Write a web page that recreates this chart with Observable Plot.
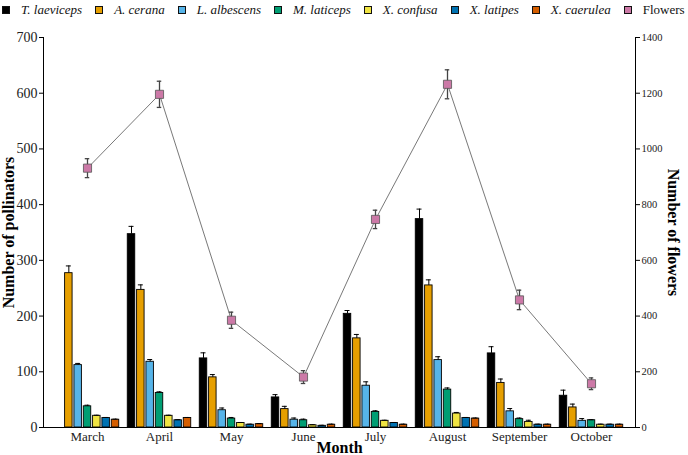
<!DOCTYPE html>
<html>
<head>
<meta charset="utf-8">
<script src="https://cdn.jsdelivr.net/npm/d3@7"></script>
<script src="https://cdn.jsdelivr.net/npm/@observablehq/plot@0.6"></script>
<style>
  html, body { margin: 0; padding: 0; background: #fff; }
  body { width: 688px; height: 455px; overflow: hidden; font-family: "Liberation Serif", "Times New Roman", serif; }
  #legend { height: 20px; display: flex; align-items: center; padding-left: 2px; font-size: 13px; color: #111; }
  #legend .item { display: flex; align-items: center; margin-right: 13px; white-space: nowrap; }
  #legend .sw { width: 6px; height: 6px; border: 1px solid #111; margin-right: 11px; }
  #legend .it { font-style: italic; }
  svg { display: block; }
</style>
</head>
<body>
<div id="legend"></div>
<div id="chart"></div>
<script>
// Months sampled
const months = ["March", "April", "May", "June", "July", "August", "September", "October"];

// Pollinator species and their colours
const species = ["T. laeviceps", "A. cerana", "L. albescens", "M. laticeps", "X. confusa", "X. latipes", "X. caerulea"];
const speciesColors = ["#000000", "#E69F00", "#56B4E9", "#009E73", "#F0E442", "#0072B2", "#D55E00"];
const flowerColor = "#CC79A7";

// Mean number of pollinators per month (one array per species)
const tLaeviceps  = [0, 347, 124, 54, 204, 374, 133, 57];
const aCerana     = [277, 247, 90, 33, 160, 255, 80, 36];
const lAlbescens  = [112, 118, 31, 14, 75, 121, 29, 12];
const mLaticeps   = [38, 62, 16, 13, 28, 68, 15, 13];
const xConfusa    = [21, 21, 8, 4, 12, 25, 10, 5];
const xLatipes    = [17, 13, 5, 3, 8, 17, 5, 5];
const xCaerulea   = [14, 17, 6, 5, 5, 16, 5, 5];

// Standard errors of the pollinator counts
const tLaevicepsErr = [0, 14, 10, 5, 6, 18, 12, 10];
const aCeranaErr    = [13, 9, 5, 5, 7, 10, 7, 6];
const lAlbescensErr = [3, 4, 4, 3, 7, 6, 5, 4];
const mLaticepsErr  = [2, 2, 2, 2, 2, 3, 2, 1];
const xConfusaErr   = [1, 1, 1, 1, 1, 2, 3, 1];
const xLatipesErr   = [1, 1, 1, 1, 1, 1, 1, 1];
const xCaeruleaErr  = [1, 1, 1, 1, 1, 1, 1, 1];

// Number of flowers per month (right axis) with errors
const flowers    = [931, 1196, 385, 181, 747, 1232, 458, 157];
const flowersErr = [34, 47, 29, 23, 33, 52, 35, 21];

// Axis ticks
const pollinatorTicks = [0, 100, 200, 300, 400, 500, 600, 700];
const flowerRatio = 1400 / 700; // right axis spans 0–1400 against 0–700

const seriesValues = [tLaeviceps, aCerana, lAlbescens, mLaticeps, xConfusa, xLatipes, xCaerulea];
const seriesErrors = [tLaevicepsErr, aCeranaErr, lAlbescensErr, mLaticepsErr, xConfusaErr, xLatipesErr, xCaeruleaErr];

// Long table of bars
const rows = species.flatMap((s, i) => months.map((m, j) => ({
  species: s, index: i, month: m, value: seriesValues[i][j], err: seriesErrors[i][j]
})));
const flowerRows = months.map((m, j) => ({ month: m, value: flowers[j], err: flowersErr[j] }));

// Legend
const legend = document.getElementById("legend");
const legendItems = species.map((s, i) => ({ label: s, color: speciesColors[i], italic: true }))
  .concat([{ label: "Flowers", color: flowerColor, italic: false }]);
for (const it of legendItems) {
  const el = document.createElement("div");
  el.className = "item";
  el.innerHTML = `<span class="sw" style="background:${it.color}"></span><span class="${it.italic ? "it" : ""}">${it.label}</span>`;
  legend.appendChild(el);
}

// Layout
const width = 688, height = 435;
const marginLeft = 43, marginRight = 53, marginTop = 17, marginBottom = 28;
const paddingOuter = 0.11;
const bandwidth = (width - marginLeft - marginRight) / (months.length + 2 * paddingOuter);
const slot = 9.33;   // spacing between bars within a month group
const barW = 7.5;
const capW = 5;
const barInset = (bandwidth - barW) / 2;
const capInset = (bandwidth - capW) / 2;
const serif = "'Liberation Serif', 'Times New Roman', serif";

const barMarks = species.flatMap((s, i) => {
  const data = rows.filter(d => d.index === i);
  const dx = (i - (species.length - 1) / 2) * slot;
  return [
    Plot.barY(data, {x: "month", y: "value", fill: speciesColors[i], stroke: "#000", strokeWidth: 0.9,
      insetLeft: barInset, insetRight: barInset, dx}),
    Plot.ruleX(data.filter(d => d.err > 0), {x: "month", y1: "value", y2: d => d.value + d.err,
      stroke: "#000", strokeWidth: 1, dx}),
    Plot.tickY(data.filter(d => d.err > 0), {x: "month", y: d => d.value + d.err,
      stroke: "#000", strokeWidth: 1, insetLeft: capInset, insetRight: capInset, dx})
  ];
});

const chart = Plot.plot({
  width, height, marginLeft, marginRight, marginTop, marginBottom,
  style: { fontFamily: serif, fontSize: "13px", color: "#222", background: "#fff" },
  x: { type: "band", domain: months, paddingInner: 0, paddingOuter, label: null },
  y: { domain: [0, 700], label: null },
  marks: [
    ...barMarks,
    // Flowers on the secondary axis
    Plot.line(flowerRows, {x: "month", y: d => d.value / flowerRatio, stroke: "#555", strokeWidth: 0.8}),
    Plot.ruleX(flowerRows, {x: "month", y1: d => (d.value - d.err) / flowerRatio, y2: d => (d.value + d.err) / flowerRatio,
      stroke: "#444", strokeWidth: 1.3}),
    Plot.tickY(flowerRows, {x: "month", y: d => (d.value + d.err) / flowerRatio, stroke: "#444", strokeWidth: 1.3,
      insetLeft: (bandwidth - 4.5) / 2, insetRight: (bandwidth - 4.5) / 2}),
    Plot.tickY(flowerRows, {x: "month", y: d => (d.value - d.err) / flowerRatio, stroke: "#444", strokeWidth: 1.3,
      insetLeft: (bandwidth - 4.5) / 2, insetRight: (bandwidth - 4.5) / 2}),
    Plot.dot(flowerRows, {x: "month", y: d => d.value / flowerRatio, symbol: "square", r: 4.6,
      fill: flowerColor, stroke: "#555", strokeWidth: 0.8}),
    // Axes
    Plot.axisY({anchor: "left", ticks: pollinatorTicks, tickFormat: d => String(d), tickSize: 4, tickPadding: 2,
      label: null, stroke: "#000", fontFamily: serif, fontSize: 14}),
    Plot.axisY({anchor: "right", ticks: pollinatorTicks, tickFormat: d => String(d * flowerRatio), tickSize: 4, tickPadding: 2,
      label: null, stroke: "#000", fontFamily: serif, fontSize: 10.5}),
    Plot.axisX({anchor: "bottom", tickSize: 0, tickPadding: 4, label: null, fontFamily: serif, fontSize: 13}),
    Plot.frame({anchor: "left", stroke: "#000"}),
    Plot.frame({anchor: "right", stroke: "#000"}),
    Plot.ruleY([0], {stroke: "#000", strokeWidth: 1.2}),
    // Axis titles
    Plot.text(["Number of pollinators"], {frameAnchor: "left", dx: -34.5, rotate: -90, textAnchor: "middle", lineAnchor: "middle",
      fontSize: 16, fontWeight: "bold", fontFamily: serif, fill: "#000"}),
    Plot.text(["Number of flowers"], {frameAnchor: "right", dx: 38, rotate: 90, textAnchor: "middle", lineAnchor: "middle",
      fontSize: 16, fontWeight: "bold", fontFamily: serif, fill: "#000"}),
    Plot.text(["Month"], {frameAnchor: "bottom", dy: 20, lineAnchor: "middle",
      fontSize: 16, fontWeight: "bold", fontFamily: serif, fill: "#000"})
  ]
});
document.getElementById("chart").appendChild(chart);
</script>
</body>
</html>
